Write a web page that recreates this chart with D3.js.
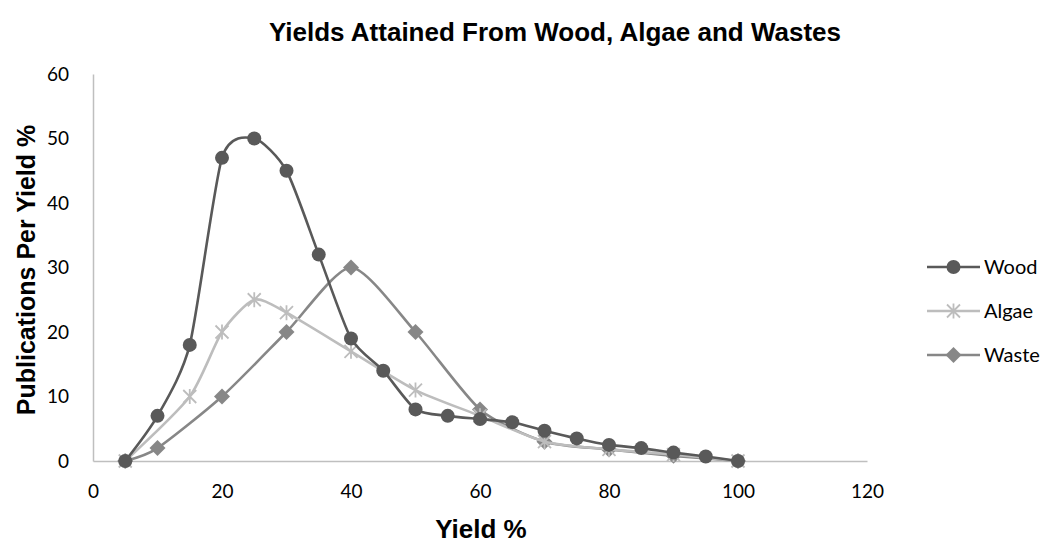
<!DOCTYPE html>
<html>
<head>
<meta charset="utf-8">
<script src="https://cdn.jsdelivr.net/npm/d3@7"></script>
<style>
  html, body { margin: 0; padding: 0; background: #fff; }
  svg { display: block; }
</style>
</head>
<body>
<svg id="chart" width="1047" height="543"></svg>
<script>
// Yield (%) sampled for each feedstock
const woodX  = [5, 10, 15, 20, 25, 30, 35, 40, 45, 50, 55, 60, 65, 70, 75, 80, 85, 90, 95, 100];
const woodY  = [0, 7, 18, 47, 50, 45, 32, 19, 14, 8, 7, 6.5, 6, 4.7, 3.5, 2.5, 2, 1.3, 0.7, 0];
const algaeX = [5, 15, 20, 25, 30, 40, 50, 60, 70, 80, 90, 100];
const algaeY = [0, 10, 20, 25, 23, 17, 11, 7, 3, 1.8, 1, 0];
const wasteX = [5, 10, 20, 30, 40, 50, 60, 70, 80, 90, 100];
const wasteY = [0, 2, 10, 20, 30, 20, 8, 3, 1.8, 0.8, 0];

const seriesNames = ["Wood", "Algae", "Waste"];
const xTicks = [0, 20, 40, 60, 80, 100, 120];
const yTicks = [0, 10, 20, 30, 40, 50, 60];

const series = [
  { name: seriesNames[0], xs: woodX,  ys: woodY,  color: "#595959", marker: "circle" },
  { name: seriesNames[1], xs: algaeX, ys: algaeY, color: "#bdbdbd", marker: "star" },
  { name: seriesNames[2], xs: wasteX, ys: wasteY, color: "#878787", marker: "diamond" }
];

const svg = d3.select("#chart");
const tickFont = "Lato, 'Open Sans', sans-serif";
const boldFont = "Liberation Sans, Arial, sans-serif";

const x = d3.scaleLinear().domain([0, 120]).range([93, 867]);
const y = d3.scaleLinear().domain([0, 60]).range([461, 74]);

// Axes
const xAxis = svg.append("g").attr("transform", `translate(0,${y(0)})`)
  .call(d3.axisBottom(x).tickValues(xTicks).tickSize(0).tickPadding(24));
const yAxis = svg.append("g").attr("transform", `translate(${x(0)},0)`)
  .call(d3.axisLeft(y).tickValues(yTicks).tickSize(0).tickPadding(24));
[xAxis, yAxis].forEach(g => {
  g.select(".domain").attr("stroke", "#bfbfbf").attr("stroke-width", 1.5);
  g.selectAll("text").attr("font-family", tickFont).attr("font-size", 19).attr("fill", "#000");
});

// Title and axis titles
svg.append("text").attr("x", 555).attr("y", 41).attr("text-anchor", "middle")
  .attr("font-family", boldFont).attr("font-weight", "bold").attr("font-size", 26)
  .text("Yields Attained From Wood, Algae and Wastes");
svg.append("text").attr("x", 481).attr("y", 538).attr("text-anchor", "middle")
  .attr("font-family", boldFont).attr("font-weight", "bold").attr("font-size", 26)
  .text("Yield %");
svg.append("text").attr("transform", "translate(35,270) rotate(-90)").attr("text-anchor", "middle")
  .attr("font-family", boldFont).attr("font-weight", "bold").attr("font-size", 25)
  .text("Publications Per Yield %");

// Marker drawing
function drawMarker(g, type, color) {
  if (type === "circle") {
    g.append("circle").attr("r", 7).attr("fill", color);
  } else if (type === "diamond") {
    g.append("path").attr("d", "M0,-8L8,0L0,8L-8,0Z").attr("fill", color);
  } else {
    const s = 6.5;
    g.append("path")
      .attr("d", `M${-s},${-s}L${s},${s}M${-s},${s}L${s},${-s}M0,${-s - 1}L0,${s + 1}`)
      .attr("stroke", color).attr("stroke-width", 1.8).attr("fill", "none");
  }
}

const line = d3.line().x(d => x(d[0])).y(d => y(d[1])).curve(d3.curveCardinal.tension(0.3));

// Draw series in reverse so Wood sits on top
series.slice().reverse().forEach(s => {
  const pts = s.xs.map((v, i) => [v, s.ys[i]]);
  const g = svg.append("g");
  g.append("path").datum(pts).attr("d", line)
    .attr("fill", "none").attr("stroke", s.color).attr("stroke-width", 2.6);
  g.selectAll("g.m").data(pts).join("g").attr("class", "m")
    .attr("transform", d => `translate(${x(d[0])},${y(d[1])})`)
    .each(function () { drawMarker(d3.select(this), s.marker, s.color); });
});

// Legend
const legendY = [267, 311, 355];
series.forEach((s, i) => {
  const g = svg.append("g").attr("transform", `translate(927,${legendY[i]})`);
  g.append("line").attr("x1", 0).attr("x2", 53).attr("stroke", s.color).attr("stroke-width", 2.6);
  const m = g.append("g").attr("transform", "translate(26.5,0)");
  drawMarker(m, s.marker, s.color);
  g.append("text").attr("x", 57).attr("y", 0).attr("dy", "0.35em")
    .attr("font-family", tickFont).attr("font-size", 20).attr("fill", "#000").text(s.name);
});
</script>
</body>
</html>
